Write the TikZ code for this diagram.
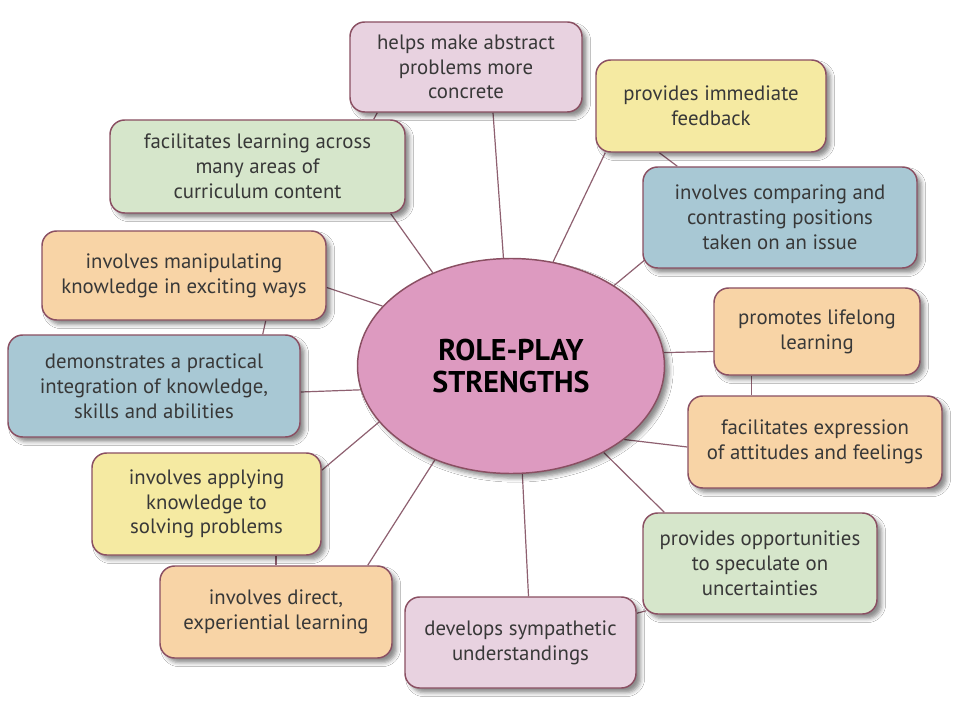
\documentclass[tikz,border=0pt]{standalone}
\usepackage{fontspec}
\setmainfont{PT Sans}
\usetikzlibrary{shadows.blur,calc,backgrounds,shapes.geometric}
\definecolor{bordc}{HTML}{8A4F62}
\definecolor{linec}{HTML}{8E6070}
\definecolor{txtc}{HTML}{383838}
\definecolor{cpink}{HTML}{E8D2E0}
\definecolor{cyel}{HTML}{F5EAA2}
\definecolor{cgreen}{HTML}{D6E6CB}
\definecolor{cblue}{HTML}{A8C8D4}
\definecolor{corange}{HTML}{F8D4A6}
\definecolor{cell}{HTML}{DD9AC0}
\begin{document}
\begin{tikzpicture}[x=0.75pt,y=-0.75pt,
  sz/.style 2 args={minimum width=#1*0.75pt, minimum height=#2*0.75pt},
  shad/.style={blur shadow={shadow xshift=3.5pt, shadow yshift=-3.5pt, shadow blur radius=3pt, shadow opacity=45}},
  box/.style={rectangle, rounded corners=11pt, draw=bordc, line width=1.1pt, align=center,
    inner sep=0pt, text=txtc, font=\fontsize{15.6}{18.6}\selectfont, shad},
  conn/.style={draw=linec, line width=0.9pt}]
\useasboundingbox (0,0) rectangle (960,720);

\node[ellipse, draw=bordc, line width=1.1pt, fill=cell, sz={307}{215}, inner sep=0pt, align=center,
  font=\bfseries\fontsize{22.5}{24}\selectfont, text=black, shad] (ell) at (511,366) {ROLE-PLAY\\STRENGTHS};

\node[box, fill=cpink, sz={232}{90}] (abs) at (466,67) {helps make abstract\\problems more\\concrete};
\node[box, fill=cyel, sz={230}{92}] (feed) at (711,106) {provides immediate\\feedback};
\node[box, fill=cgreen, sz={295}{93}] (curr) at (257.5,166.5) {facilitates learning across\\many areas of\\curriculum content};
\node[box, fill=cblue, sz={274}{101}] (comp) at (780,217.5) {involves comparing and\\contrasting positions\\taken on an issue};
\node[box, fill=corange, sz={284}{89}] (manip) at (184,275.5) {involves manipulating\\knowledge in exciting ways};
\node[box, fill=corange, sz={206}{87}] (life) at (817,331.5) {promotes lifelong\\learning};
\node[box, fill=cblue, sz={292}{102}] (demo) at (154,386) {demonstrates a practical\\integration of knowledge,\\skills and abilities};
\node[box, fill=corange, sz={254}{92}] (expr) at (815,442) {facilitates expression\\of attitudes and feelings};
\node[box, fill=cyel, sz={229}{102}] (apply) at (206.5,504) {involves applying\\knowledge to\\solving problems};
\node[box, fill=cgreen, sz={234}{101}] (spec) at (760,563.5) {provides opportunities\\to speculate on\\uncertainties};
\node[box, fill=corange, sz={232}{92}] (direct) at (276,612) {involves direct,\\experiential learning};
\node[box, fill=cpink, sz={231}{91}] (symp) at (520.5,642.5) {develops sympathetic\\understandings};

\begin{scope}[on background layer]
\fill[white] (0,0) rectangle (960,720);
\draw[conn] (ell.94.2) -- ($(abs.south)+(27,0)$);
\draw[conn] (ell.68) -- ($(feed.south west)+(10,0)$);
\draw[conn] (ell.130.7) -- ($(curr.south east)+(-15,0)$);
\draw[conn] (ell.38.5) -- ($(comp.south west)+(4,-10)$);
\draw[conn] (ell.155.4) -- ($(manip.east)+(0,12)$);
\draw[conn] (ell.5.2) -- ($(life.west)+(0,20)$);
\draw[conn] (ell.189.6) -- ($(demo.east)+(0,6)$);
\draw[conn] (ell.-33) -- ($(expr.west)+(0,5)$);
\draw[conn] (ell.203.5) -- ($(apply.north east)+(0,18)$);
\draw[conn] (ell.-43.5) -- ($(spec.north west)+(22,0)$);
\draw[conn] (ell.231.6) -- ($(direct.north east)+(-25,0)$);
\draw[conn] (ell.-84.3) -- ($(symp.north)+(8,0)$);
% ring links
\draw[conn] ($(abs.south west)+(28,0)$) -- ($(curr.north east)+(-32,0)$);
\draw[conn] ($(feed.south west)+(64,0)$) -- ($(comp.north west)+(35,0)$);
\draw[conn] ($(manip.south east)+(-61,0)$) -- ($(demo.north east)+(-38,0)$);
\draw[conn] ($(life.south west)+(38,0)$) -- ($(expr.north west)+(64,0)$);
\draw[conn] ($(apply.south)+(69.5,0)$) -- (direct.north);
\draw[conn] ($(symp.north east)+(0,17)$) -- ($(spec.south west)+(4,-4)$);
\end{scope}
\end{tikzpicture}
\end{document}
